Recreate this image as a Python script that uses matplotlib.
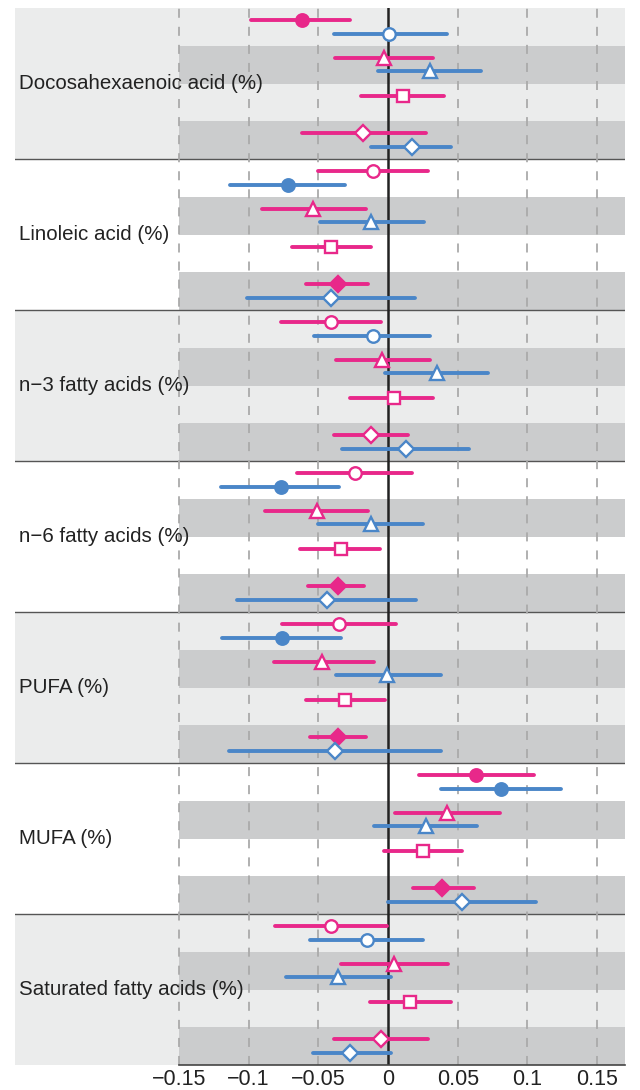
import numpy as np
import matplotlib
matplotlib.use("Agg")
import matplotlib.pyplot as plt

plt.rcParams['font.family'] = ['Liberation Sans', 'DejaVu Sans']

groups = ["Docosahexaenoic acid (%)", "Linoleic acid (%)", "n\u22123 fatty acids (%)",
          "n\u22126 fatty acids (%)", "PUFA (%)", "MUFA (%)", "Saturated fatty acids (%)"]
markers = ["o", "^", "s", "D"]

# pink series: rows circle, triangle, square, diamond
pink_est = [[-0.062, -0.003, 0.011, -0.018],
            [-0.011, -0.054, -0.041, -0.036],
            [-0.041, -0.004, 0.004, -0.012],
            [-0.024, -0.051, -0.034, -0.036],
            [-0.035, -0.047, -0.031, -0.036],
            [0.063, 0.042, 0.025, 0.039],
            [-0.041, 0.004, 0.016, -0.005]]
pink_lo = [[-0.098, -0.038, -0.019, -0.062],
           [-0.050, -0.090, -0.069, -0.059],
           [-0.077, -0.037, -0.027, -0.039],
           [-0.065, -0.088, -0.063, -0.057],
           [-0.076, -0.082, -0.059, -0.056],
           [0.022, 0.005, -0.003, 0.018],
           [-0.081, -0.034, -0.013, -0.039]]
pink_hi = [[-0.027, 0.032, 0.040, 0.027],
           [0.029, -0.016, -0.012, -0.014],
           [-0.005, 0.030, 0.032, 0.014],
           [0.017, -0.014, -0.006, -0.017],
           [0.006, -0.010, -0.002, -0.016],
           [0.105, 0.080, 0.053, 0.062],
           [-0.001, 0.043, 0.045, 0.029]]
pink_filled = [[1, 0, 0, 0], [0, 0, 0, 1], [0, 0, 0, 0], [0, 0, 0, 1],
               [0, 0, 0, 1], [1, 0, 0, 1], [0, 0, 0, 0]]

# blue series: rows circle, triangle, (no square), diamond
blue_est = [[0.001, 0.030, np.nan, 0.017],
            [-0.072, -0.012, np.nan, -0.041],
            [-0.011, 0.035, np.nan, 0.013],
            [-0.077, -0.012, np.nan, -0.044],
            [-0.076, -0.001, np.nan, -0.038],
            [0.081, 0.027, np.nan, 0.053],
            [-0.015, -0.036, np.nan, -0.027]]
blue_lo = [[-0.039, -0.007, np.nan, -0.012],
           [-0.113, -0.049, np.nan, -0.101],
           [-0.053, -0.002, np.nan, -0.033],
           [-0.120, -0.050, np.nan, -0.108],
           [-0.119, -0.037, np.nan, -0.114],
           [0.038, -0.010, np.nan, 0.000],
           [-0.056, -0.073, np.nan, -0.054]]
blue_hi = [[0.042, 0.067, np.nan, 0.045],
           [-0.031, 0.026, np.nan, 0.019],
           [0.030, 0.072, np.nan, 0.058],
           [-0.035, 0.025, np.nan, 0.020],
           [-0.034, 0.038, np.nan, 0.038],
           [0.124, 0.064, np.nan, 0.106],
           [0.025, 0.002, np.nan, 0.002]]
blue_filled = [[0, 0, 0, 0], [1, 0, 0, 0], [0, 0, 0, 0], [1, 0, 0, 0],
               [1, 0, 0, 0], [1, 0, 0, 0], [0, 0, 0, 0]]

xticks = [-0.15, -0.1, -0.05, 0, 0.05, 0.1, 0.15]
xtick_labels = ["\u22120.15", "\u22120.1", "\u22120.05", "0", "0.05", "0.1", "0.15"]

PINK = "#e8288a"
BLUE = "#4a86c8"
LIGHT = "#ebecec"
DARK = "#cbcccd"

fig = plt.figure(figsize=(6.4, 10.9), dpi=100)
ax = fig.add_axes([15/640, 1 - 1065/1090, 610/640, (1065 - 8)/1090])
xmin, xmax = -0.2674, 0.1699
ax.set_xlim(xmin, xmax)
nrows = len(groups) * 4
ax.set_ylim(nrows, 0)
band_start = (-0.15 - xmin) / (xmax - xmin)

off = 0.18
msizes = {"o": 9, "^": 10.5, "s": 8, "D": 8}

for g, name in enumerate(groups):
    y0 = g * 4
    if g % 2 == 0:
        ax.axhspan(y0, y0 + 4, xmin=0, xmax=1, color=LIGHT, lw=0, zorder=0)
    for r in (1, 3):
        ax.axhspan(y0 + r, y0 + r + 1, xmin=band_start, xmax=1, color=DARK, lw=0, zorder=0.5)
    if g > 0:
        ax.axhline(y0, color="#555555", lw=1.0, zorder=1)
    ax.text(-0.2645, y0 + 2, name, va="center", ha="left", fontsize=14.8, color="#222222")
    for r, m in enumerate(markers):
        yc = y0 + r + 0.5
        series = [(pink_est, pink_lo, pink_hi, pink_filled, PINK, yc - off),
                  (blue_est, blue_lo, blue_hi, blue_filled, BLUE, yc + off)]
        for est, lo, hi, filled, col, yy in series:
            e = est[g][r]
            if np.isnan(e):
                continue
            ax.plot([lo[g][r], hi[g][r]], [yy, yy], color=col, lw=2.8,
                    solid_capstyle="round", zorder=3)
            fc = col if filled[g][r] else "white"
            ax.plot([e], [yy], marker=m, ms=msizes[m], mfc=fc, mec=col,
                    mew=1.7, zorder=4, ls="none")

# grid lines
for xt in xticks:
    if xt == 0:
        ax.axvline(0, color="#222222", lw=1.8, zorder=2.5)
    else:
        ax.axvline(xt, color="#aaaaaa", lw=1.3, ls=(0, (5, 5)), zorder=1.5)

# bottom axis line
ax.plot([-0.15, xmax], [nrows, nrows], color="#444444", lw=1.2, zorder=5, clip_on=False)

for s in ax.spines.values():
    s.set_visible(False)
ax.set_yticks([])
ax.set_xticks(xticks)
ax.set_xticklabels(xtick_labels, fontsize=15.5, color="#222222")
ax.tick_params(axis="x", length=0, pad=3)

fig.savefig("out.png", dpi=100)
